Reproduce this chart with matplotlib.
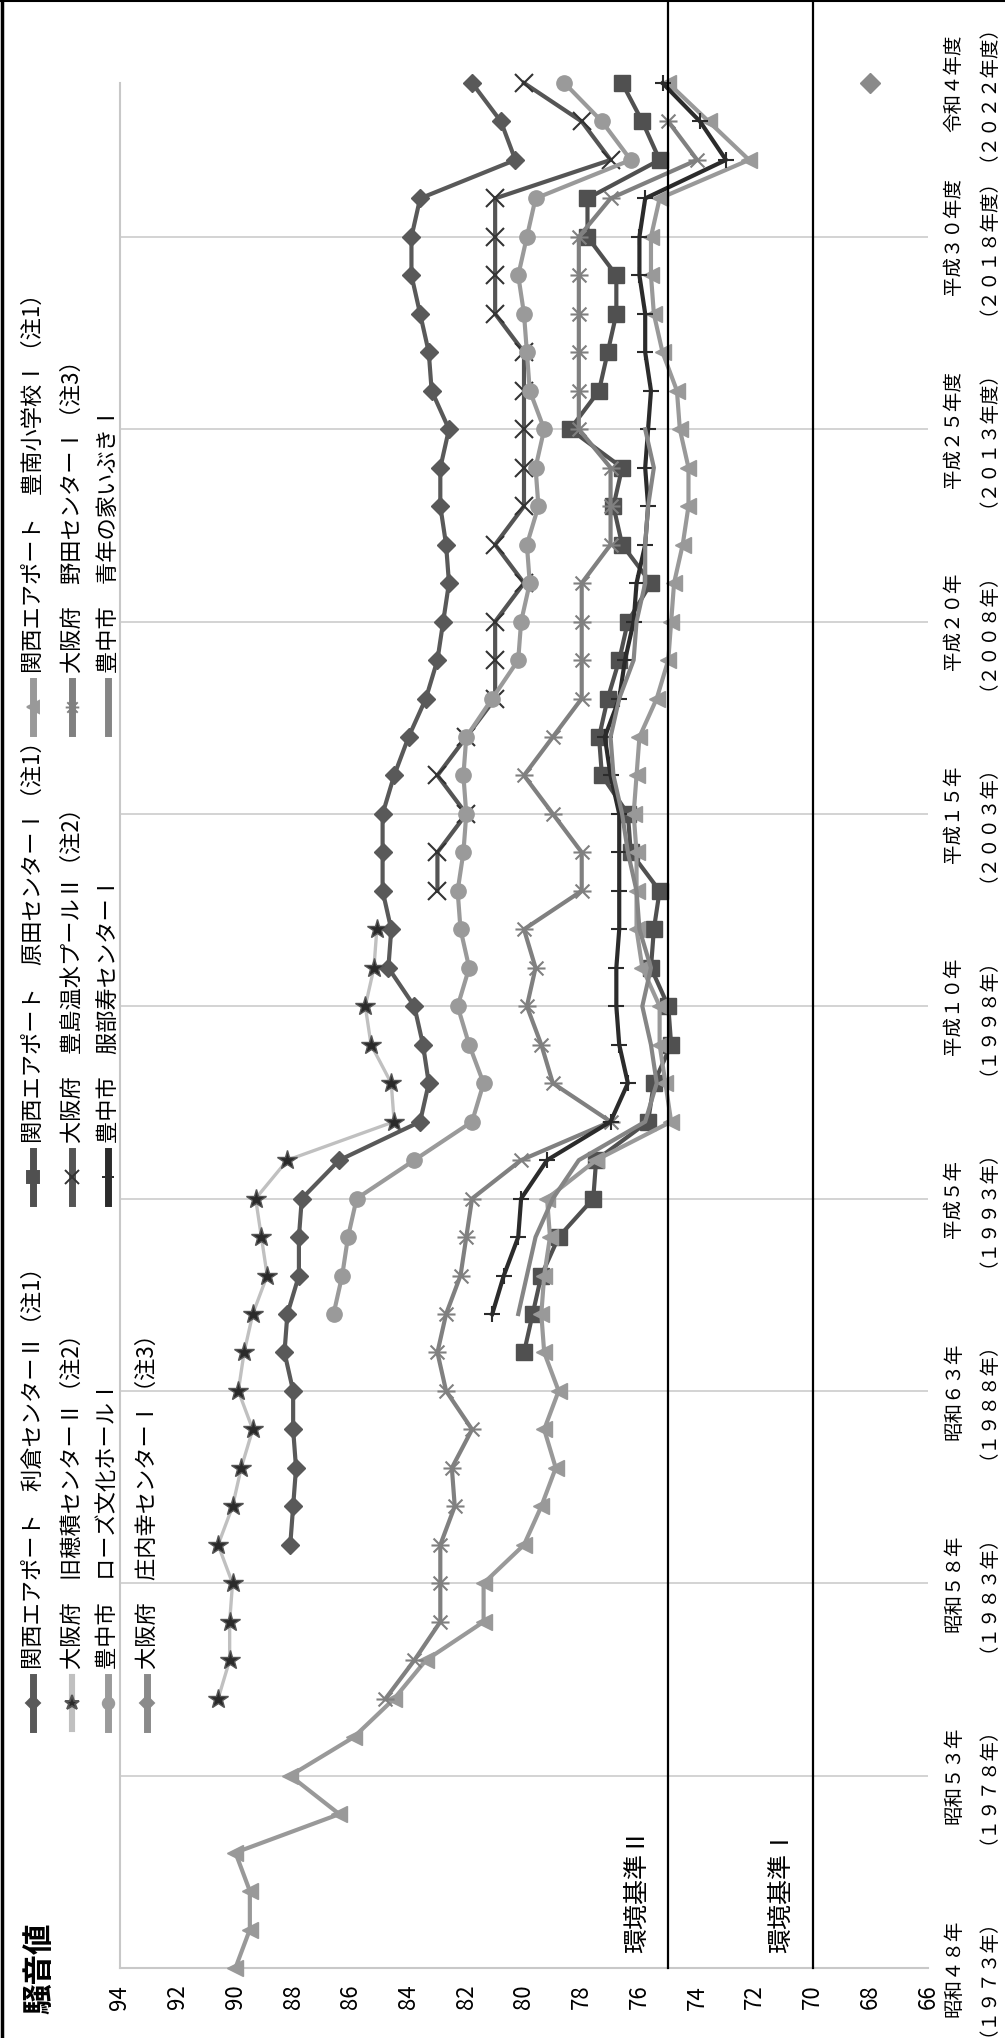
import numpy as np
import matplotlib
matplotlib.use("Agg")
import matplotlib.pyplot as plt
from matplotlib.lines import Line2D
from matplotlib.path import Path

plt.rcParams['font.family'] = ['Noto Sans CJK JP', 'DejaVu Sans']

# ---- data (noise values, dB) ----
tokura_years = list(range(1984, 2023))
tokura = [88.1, 88.0, 87.9, 88.0, 88.0, 88.3, 88.2, 87.8, 87.8, 87.7, 86.4, 83.6, 83.3, 83.5,
          83.8, 84.7, 84.6, 84.9, 84.9, 84.9, 84.5, 84.0, 83.4, 83.0, 82.8, 82.6, 82.7, 82.9,
          82.9, 82.6, 83.2, 83.3, 83.6, 83.9, 83.9, 83.6, 80.3, 80.8, 81.8]

harada_years = list(range(1989, 2023))
harada = [80.0, 79.7, 79.4, 78.8, 77.6, 77.5, 75.7, 75.5, 74.9, 75.0, 75.6, 75.5, 75.3, 76.3,
          76.4, 77.3, 77.4, 77.1, 76.7, 76.4, 75.6, 76.6, 76.9, 76.6, 78.4, 77.4, 77.1, 76.8,
          76.8, 77.8, 77.8, 75.3, 75.9, 76.6]

honan_years = list(range(1973, 2023))
honan = [90.0, 89.5, 89.5, 90.0, 86.4, 88.1, 85.9, 84.5, 83.4, 81.4, 81.4, 80.0, 79.4, 78.9,
         79.3, 78.8, 79.3, 79.4, 79.3, 79.1, 79.2, 77.5, 74.9, 75.1, 75.3, 75.3, 75.9, 76.1,
         76.1, 76.1, 76.2, 76.1, 76.0, 75.4, 75.0, 74.9, 74.8, 74.5, 74.3, 74.3, 74.6, 74.7,
         75.2, 75.5, 75.6, 75.6, 75.3, 72.2, 73.6, 75.0]

hozumi_years = list(range(1980, 2001))
hozumi = [90.6, 90.2, 90.2, 90.1, 90.6, 90.1, 89.8, 89.4, 89.9, 89.7, 89.4, 88.9, 89.1, 89.3,
          88.2, 84.5, 84.6, 85.3, 85.5, 85.2, 85.1]

toyoshima_years = list(range(2001, 2023))
toyoshima = [83.0, 83.0, 82.0, 83.0, 82.0, 81.0, 81.0, 81.0, 80.0, 81.0, 80.0, 80.0, 80.0,
             80.0, 80.0, 81.0, 81.0, 81.0, 81.0, 77.0, 78.0, 80.0]

noda_years = list(range(1980, 2022))
noda = [84.8, 83.8, 82.9, 82.9, 82.9, 82.4, 82.5, 81.8, 82.7, 83.0, 82.7, 82.2, 82.0, 81.8,
        80.1, 77.0, 79.0, 79.4, 79.9, 79.6, 80.0, 78.0, 78.0, 79.0, 80.0, 79.0, 78.0, 78.0,
        78.0, 78.0, 77.0, 77.0, 77.0, 78.1, 78.1, 78.1, 78.1, 78.1, 78.1, 77.0, 74.0, 75.0]

rose_years = list(range(1990, 2023))
rose = [86.6, 86.3, 86.1, 85.8, 83.8, 81.8, 81.4, 81.9, 82.3, 81.9, 82.2, 82.3, 82.1, 82.0,
        82.1, 82.0, 81.1, 80.2, 80.1, 79.8, 79.9, 79.5, 79.6, 79.3, 79.8, 79.9, 80.0, 80.2,
        79.9, 79.6, 76.3, 77.3, 78.6]

hattori_years = list(range(1990, 2023))
hattori = [81.1, 80.7, 80.2, 80.1, 79.2, 77.0, 76.4, 76.7, 76.8, 76.8, 76.7, 76.7, 76.7, 76.7,
           77.0, 77.2, 76.7, 76.5, 76.2, 76.1, 75.8, 75.7, 75.8, 75.7, 75.6, 75.8, 75.8, 76.0,
           76.0, 75.8, 73.0, 73.9, 75.2]

ibuki_years = list(range(1990, 2014))
ibuki = [80.2, 79.9, 79.6, 79.0, 78.1, 75.8, 75.4, 75.6, 75.9, 75.6, 76.0, 76.1, 76.4, 76.6,
         76.9, 77.0, 76.7, 76.2, 76.1, 75.8, 75.8, 75.7, 75.5, 75.8]

shonai_years = [2022]
shonai = [68.0]

standards = [75, 70]
standard_labels = ['環境基準Ⅱ', '環境基準Ⅰ']

value_ticks = list(range(94, 65, -2))
label_years = [1973, 1978, 1983, 1988, 1993, 1998, 2003, 2008, 2013, 2018, 2022]
year_labels = ['昭和４８年\n（１９７３年）', '昭和５３年\n（１９７８年）', '昭和５８年\n（１９８３年）',
               '昭和６３年\n（１９８８年）', '平成５年\n（１９９３年）', '平成１０年\n（１９９８年）',
               '平成１５年\n（２００３年）', '平成２０年\n（２００８年）', '平成２５年度\n（２０１３年度）',
               '平成３０年度\n（２０１８年度）', '令和４年度\n（２０２２年度）']
grid_years = [1978, 1983, 1988, 1993, 1998, 2003, 2008, 2013, 2018]

# asterisk marker (X with a bar), as the chart is turned on its side
ast = Path([(-1, -1), (1, 1), (-1, 1), (1, -1), (-1.3, 0), (1.3, 0)],
           [Path.MOVETO, Path.LINETO] * 3)

S = [  # name, years, values, line colour, marker, size, marker face, marker edge, lw
    ('関西エアポート　利倉センターⅡ（注1）', tokura_years, tokura, '#595959', 'D', 9.5, '#595959', '#595959', 3.0),
    ('関西エアポート　原田センターⅠ（注1）', harada_years, harada, '#505050', 's', 11, '#505050', '#505050', 3.0),
    ('関西エアポート　豊南小学校Ⅰ（注1）', honan_years, honan, '#999999', '<', 12, '#999999', '#999999', 3.0),
    ('大阪府　旧穂積センターⅡ（注2）', hozumi_years, hozumi, '#C0C0C0', '*', 15, '#2a2a2a', '#555555', 2.4),
    ('大阪府　豊島温水プールⅡ（注2）', toyoshima_years, toyoshima, '#555555', 'x', 13, '#333333', '#333333', 3.0),
    ('大阪府　野田センターⅠ（注3）', noda_years, noda, '#808080', ast, 13, '#808080', '#808080', 3.0),
    ('豊中市　ローズ文化ホールⅠ', rose_years, rose, '#9a9a9a', 'o', 11, '#9a9a9a', '#9a9a9a', 3.0),
    ('豊中市　服部寿センターⅠ', hattori_years, hattori, '#2b2b2b', '+', 12, '#2b2b2b', '#2b2b2b', 3.0),
    ('豊中市　青年の家いぶきⅠ', ibuki_years, ibuki, '#858585', None, 0, '#858585', '#858585', 3.0),
    ('大阪府　庄内幸センターⅠ（注3）', shonai_years, shonai, '#8a8a8a', 'D', 10, '#8a8a8a', '#8a8a8a', 3.0),
]

W, H = 1005, 2038


def fx(x):
    return x / W


def fy(y):
    return 1 - y / H


fig = plt.figure(figsize=(W / 100, H / 100), dpi=100)
ax = fig.add_axes([fx(120), fy(1968), (928 - 120) / W, (1968 - 83) / H])

for yr in grid_years:
    ax.axhline(yr, color='#d0d0d0', lw=1.3, zorder=0)

for name, yrs, vals, col, mk, ms, mfc, mec, lw in S:
    ax.plot(vals, yrs, color=col, lw=lw, marker=mk, ms=ms, mfc=mfc, mec=mec,
            mew=1.5 if mk in ('x', '+') or mk is ast else 1.0, zorder=3, clip_on=False)

top = 1968 / (1968 - 83)
for v, lab in zip(standards, standard_labels):
    ax.axvline(v, ymin=0, ymax=top, color='black', lw=1.6, clip_on=False, zorder=4)
    ax.text(v + 1.1, 1973.4, lab, rotation=90, ha='center', va='bottom', fontsize=18)

ax.set_xlim(94, 66)
ax.set_ylim(1973, 2022)
ax.set_xticks(value_ticks)
ax.set_xticklabels([str(v) for v in value_ticks], rotation=90, fontsize=16)
ax.yaxis.tick_right()
ax.set_yticks(label_years)
ax.set_yticklabels(year_labels, rotation=90, fontsize=14, va='center', ha='left',
                   multialignment='center')
ax.tick_params(axis='both', length=0)
ax.tick_params(axis='x', pad=12)
ax.tick_params(axis='y', pad=11)
for s in ('top', 'right'):
    ax.spines[s].set_visible(False)
for s in ('left', 'bottom'):
    ax.spines[s].set_color('#c8c8c8')
    ax.spines[s].set_linewidth(1.5)

# legend, laid out sideways like the source
rows_x = [33, 72, 108, 147]
cols_y = [1703, 1177, 707]
order = [[0, 3, 6, 9], [1, 4, 7], [2, 5, 8]]
for cy, idx in zip(cols_y, order):
    for rx, i in zip(rows_x, idx):
        name, yrs, vals, col, mk, ms, mfc, mec, lw = S[i]
        fig.add_artist(Line2D([fx(rx), fx(rx)], [fy(cy + 26), fy(cy - 26)], color=col,
                              lw=lw + 2, transform=fig.transFigure))
        if mk is not None:
            fig.add_artist(Line2D([fx(rx)], [fy(cy)], marker=mk, ms=ms * 0.75, mfc=mfc, mec=mec,
                                  mew=1.4, transform=fig.transFigure))
        fig.text(fx(rx), fy(cy - 34), name, rotation=90, ha='center', va='bottom', fontsize=16)

fig.text(fx(39), fy(1968), '騒音値', rotation=90, ha='center', va='center', fontsize=22,
         fontweight='bold')

# page frame on the left and top
fig.add_artist(Line2D([fx(2), fx(2)], [0, 1], color='black', lw=2.5, transform=fig.transFigure))
fig.add_artist(Line2D([0, 1], [fy(1), fy(1)], color='black', lw=1.5, transform=fig.transFigure))

fig.savefig('out.png', dpi=100)
